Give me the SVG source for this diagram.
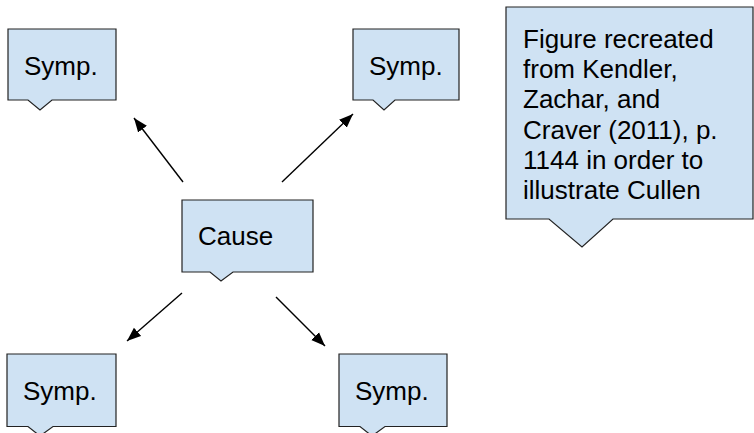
<svg xmlns="http://www.w3.org/2000/svg" width="754" height="433" viewBox="0 0 754 433">
<style>
.box{fill:#cfe2f3;stroke:#222;stroke-width:1.2}
.t{font-family:"Liberation Sans",Arial,sans-serif;font-size:26px;fill:#000}
.c{stroke:#000;stroke-width:1.4;fill:none;marker-end:url(#ah)}
</style>
<defs>
<marker id="ah" markerUnits="userSpaceOnUse" markerWidth="15" markerHeight="12" refX="14" refY="6" orient="auto">
<path d="M0,0.5 L14,6 L0,11.5 z" fill="#000"/>
</marker>
</defs>
<rect width="754" height="433" fill="#fff"/>
<g id="connectors">
<line class="c" x1="183" y1="182" x2="134" y2="118"/>
<line class="c" x1="282" y1="182" x2="353" y2="114"/>
<line class="c" x1="182" y1="293" x2="127" y2="341"/>
<line class="c" x1="276" y1="297" x2="325" y2="346"/>
</g>
<g id="symp-tl">
<path class="box" d="M8,29 H116 V100 H52 L40,110 L28,100 H8 Z"/>
<text class="t" x="24" y="75">Symp.</text>
</g>
<g id="symp-tr">
<path class="box" d="M353,29 H459 V100 H395 L384,110 L373,100 H353 Z"/>
<text class="t" x="369" y="75">Symp.</text>
</g>
<g id="cause">
<path class="box" d="M182,200 H313 V272 H233 L221,281 L210,272 H182 Z"/>
<text class="t" x="198" y="245">Cause</text>
</g>
<g id="note">
<path class="box" d="M506,7 H753 V219 H613 L582,247 L549,219 H506 Z"/>
<text class="t" x="523" y="48">Figure recreated</text>
<text class="t" x="523" y="78.2">from Kendler,</text>
<text class="t" x="523" y="108.4">Zachar, and</text>
<text class="t" x="523" y="138.6">Craver (2011), p.</text>
<text class="t" x="523" y="168.8">1144 in order to</text>
<text class="t" x="523" y="199">illustrate Cullen</text>
</g>
<g id="symp-bl">
<path class="box" d="M7,354 H116 V426.5 H53 L40,436 L28,426.5 H7 Z"/>
<text class="t" x="23" y="400">Symp.</text>
</g>
<g id="symp-br">
<path class="box" d="M339,354 H447 V426.5 H385 L372,436 L360,426.5 H339 Z"/>
<text class="t" x="355" y="400">Symp.</text>
</g>
</svg>
